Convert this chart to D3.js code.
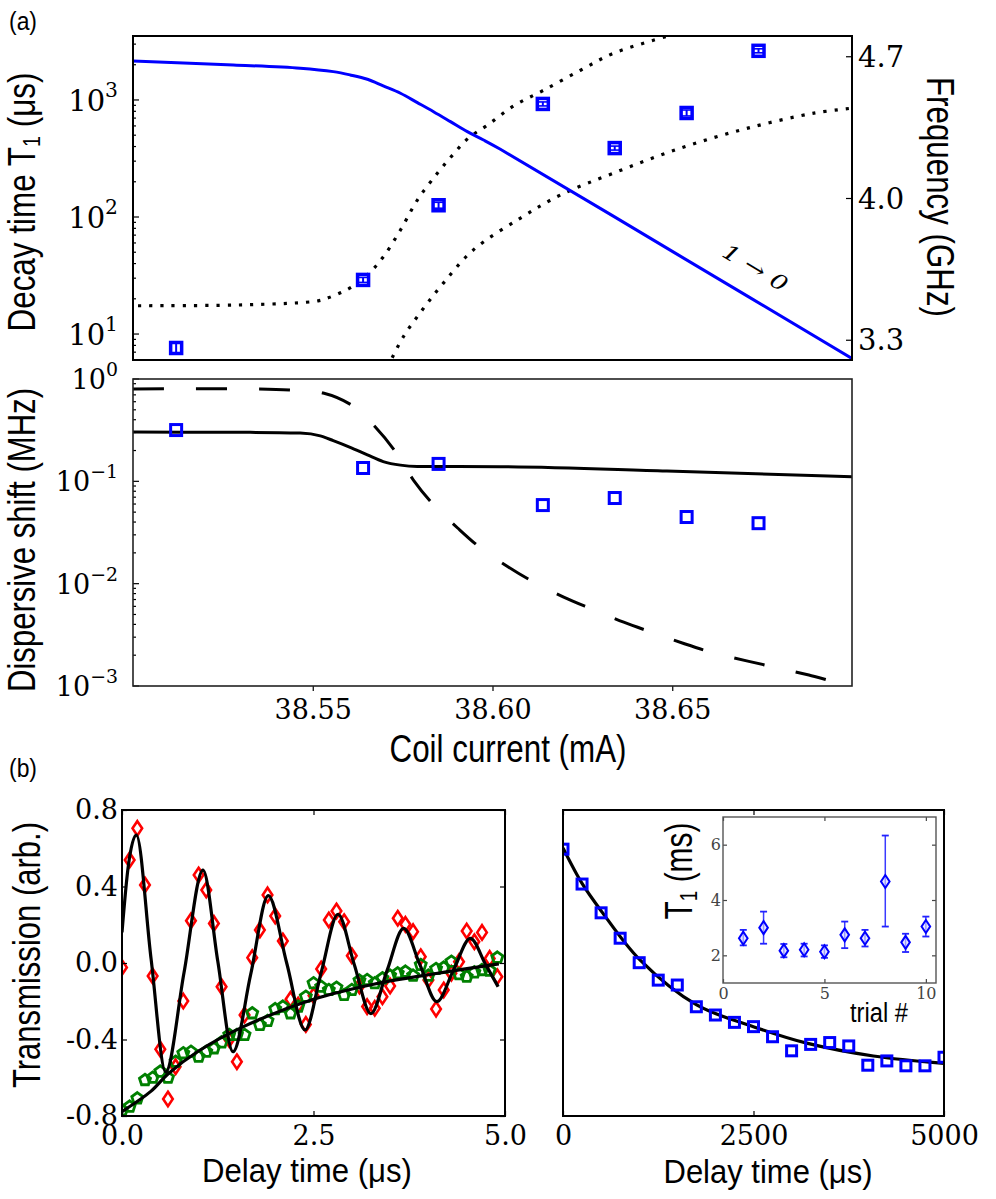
<!DOCTYPE html>
<html>
<head>
<meta charset="utf-8">
<script src="https://cdn.jsdelivr.net/npm/d3@7"></script>
<style>
  body { margin: 0; background: #fff; }
  svg { display: block; }
</style>
</head>
<body>
<div id="fig"></div>
<script>
// ---- panel (a), top: T1 and frequencies vs coil current ----
var coilMeas = [38.512, 38.564, 38.585, 38.614, 38.634, 38.654, 38.674];
var t1Meas = [7.6, 29, 126, 925, 388, 774, 2630];
var t1RelErr = [0.13, 0.05, 0.06, 0.04, 0.04, 0.06, 0.04];

var t1ModelCoil = [38.5000, 38.5279, 38.5465, 38.5557, 38.5604, 38.5652, 38.5696, 38.5744,
                   38.5791, 38.5836, 38.5883, 38.5930, 38.5975, 38.6022, 38.6513, 38.7003];
var t1ModelValues = [2155, 1993, 1868, 1746, 1637, 1503, 1318, 1141, 949, 794, 653, 536, 455, 379, 48.2, 6.1];

var freqACoil = [38.5014, 38.5326, 38.5515, 38.5543, 38.5577, 38.5604, 38.5652, 38.5696, 38.5744, 38.5791,
                 38.5847, 38.5889, 38.5933, 38.5986, 38.6058, 38.6142, 38.6245, 38.6337, 38.6487];
var freqAValues = [3.468, 3.473, 3.492, 3.507, 3.532, 3.556, 3.620, 3.709, 3.842, 3.990,
                   4.123, 4.212, 4.296, 4.360, 4.454, 4.532, 4.631, 4.715, 4.799];
var freqBCoil = [38.5721, 38.5752, 38.5805, 38.5864, 38.5947, 38.6078, 38.6189, 38.6337, 38.6524, 38.6710, 38.6894, 38.7003];
var freqBValues = [3.211, 3.315, 3.448, 3.581, 3.744, 3.901, 4.015, 4.123, 4.247, 4.345, 4.419, 4.444];

var t1Ticks = [10, 100, 1000];
var freqTicks = [3.3, 4.0, 4.7];

// ---- panel (a), bottom: dispersive shift ----
var chiMeas = [0.317, 0.135, 0.148, 0.0586, 0.0687, 0.0448, 0.039];
var chiSolidCoil = [38.5000, 38.5326, 38.5465, 38.5521, 38.5557, 38.5604, 38.5652, 38.5696, 38.5744,
                    38.5791, 38.6022, 38.6485, 38.7003];
var chiSolidValues = [0.303, 0.301, 0.296, 0.278, 0.250, 0.215, 0.181, 0.156, 0.144,
                      0.140, 0.139, 0.126, 0.111];
var chiDashCoil = [38.5000, 38.5348, 38.5437, 38.5529, 38.5610, 38.5674, 38.5730, 38.5780, 38.5836, 38.5903,
                   38.5967, 38.6045, 38.6114, 38.6198, 38.6279, 38.6365, 38.6448, 38.6532, 38.6616, 38.6710,
                   38.6794, 38.6880, 38.6967, 38.7003];
var chiDashValues = [0.80, 0.80, 0.78, 0.73, 0.55, 0.34, 0.195, 0.103, 0.059, 0.035,
                     0.0223, 0.0145, 0.0104, 0.0074, 0.0056, 0.0042, 0.0033, 0.0026, 0.0021, 0.00175,
                     0.0015, 0.00128, 0.00107, 0.00102];
var chiTicks = [0.001, 0.01, 0.1, 1];
var coilTicks = [38.55, 38.60, 38.65];

// ---- panel (b), left: Rabi + relaxation traces ----
var delayUs = [0, 0.1, 0.2, 0.3, 0.4, 0.5, 0.6, 0.7, 0.8, 0.9, 1.0, 1.1, 1.2, 1.3, 1.4, 1.5, 1.6, 1.7, 1.8, 1.9,
               2.0, 2.1, 2.2, 2.3, 2.4, 2.5, 2.6, 2.7, 2.8, 2.9, 3.0, 3.1, 3.2, 3.3, 3.4, 3.5, 3.6, 3.7, 3.8, 3.9,
               4.0, 4.1, 4.2, 4.3, 4.4, 4.5, 4.6, 4.7, 4.8, 4.9];
var rabiValues = [-0.023, 0.539, 0.704, 0.408, -0.068, -0.451, -0.711, -0.542, -0.199, 0.221,
                  0.460, 0.382, 0.207, -0.124, -0.40, -0.516, -0.272, 0.028, 0.173, 0.356,
                  0.246, 0.115, -0.190, -0.22, -0.321, -0.17, -0.031, 0.225, 0.272, 0.216,
                  0.038, -0.12, -0.228, -0.237, -0.176, -0.120, 0.234, 0.202, 0.164, 0.033,
                  -0.089, -0.241, -0.141, -0.054, 0.007, 0.167, 0.111, 0.160, 0.024, -0.072];
var relaxValues = [-0.77, -0.751, -0.708, -0.612, -0.600, -0.568, -0.600, -0.516, -0.472, -0.464,
                   -0.490, -0.464, -0.446, -0.415, -0.376, -0.376, -0.376, -0.263, -0.324, -0.303,
                   -0.241, -0.228, -0.263, -0.228, -0.176, -0.106, -0.124, -0.141, -0.129, -0.167,
                   -0.141, -0.092, -0.089, -0.106, -0.080, -0.066, -0.054, -0.045, -0.066, -0.010,
                   -0.066, -0.031, -0.024, 0.007, -0.058, -0.072, -0.049, -0.037, -0.040, 0.028];
var rabiFitT = [0, 0.08, 0.187, 0.38, 0.57, 0.81, 1.057, 1.25, 1.449, 1.68, 1.91, 2.15, 2.39, 2.6,
                2.82, 3.03, 3.25, 3.46, 3.677, 3.89, 4.11, 4.33, 4.547, 4.75, 4.91];
var rabiFitV = [0.16, 0.50, 0.669, 0.02, -0.57, -0.05, 0.486, 0.01, -0.464, -0.06, 0.352, 0.0, -0.35, -0.05,
                0.255, -0.005, -0.265, -0.04, 0.181, -0.01, -0.202, -0.035, 0.129, -0.01, -0.124];
var relaxFitT = [0, 0.38, 0.6, 1.0, 1.6, 2.5, 3.3, 4.1, 4.92];
var relaxFitV = [-0.777, -0.67, -0.58, -0.46, -0.33, -0.19, -0.11, -0.055, -0.005];
var transTicks = [-0.8, -0.4, 0.0, 0.4, 0.8];
var delayUsTicks = [0, 2.5, 5];

// ---- panel (b), right: long T1 decay + inset ----
var delayLong = [0, 250, 500, 750, 1000, 1250, 1500, 1750, 2000, 2250, 2500, 2750, 3000,
                 3250, 3500, 3750, 4000, 4250, 4500, 4750, 5000];
var decayValues = [0.872, 0.758, 0.664, 0.581, 0.501, 0.444, 0.428, 0.357, 0.330, 0.306, 0.292,
                   0.259, 0.213, 0.234, 0.240, 0.229, 0.166, 0.180, 0.164, 0.164, 0.192];
var decayFitT = [0, 250, 508, 1010, 1754, 2498, 3198, 4073, 5000];
var decayFitV = [0.876, 0.76, 0.668, 0.51, 0.363, 0.292, 0.238, 0.196, 0.172];
var delayLongTicks = [0, 2500, 5000];

var trials = [1, 2, 3, 4, 5, 6, 7, 8, 9, 10];
var trialT1 = [2.62, 3.0, 2.17, 2.20, 2.13, 2.74, 2.62, 4.67, 2.47, 3.04];
var trialLo = [2.36, 2.42, 1.93, 1.96, 1.91, 2.26, 2.32, 3.04, 2.12, 2.68];
var trialHi = [2.92, 3.58, 2.41, 2.42, 2.36, 3.22, 2.92, 6.33, 2.78, 3.40];
var trialTicks = [0, 5, 10];
var insetYTicks = [2, 4, 6];

var blue = "#0000ff", red = "#ff0000", green = "#008000";
var sans = "'Liberation Sans Narrow', 'Liberation Sans', Arial, sans-serif",
    serif = "'DejaVu Serif', serif";

var svg = d3.select("#fig").append("svg").attr("width", 996).attr("height", 1199);

var pTop = { left: 133, right: 852, top: 36, bottom: 360 },
    pMid = { left: 133, right: 852, top: 379, bottom: 686 },
    pBL = { left: 122, right: 505, top: 810, bottom: 1116 },
    pBR = { left: 563, right: 944, top: 810, bottom: 1116 },
    pIn = { left: 723, right: 936, top: 817, bottom: 983 };

var smooth = d3.curveCatmullRom.alpha(0.5);

function clipFor(id, p) {
    svg.append("clipPath").attr("id", id).append("rect")
        .attr("x", p.left).attr("y", p.top)
        .attr("width", p.right - p.left).attr("height", p.bottom - p.top);
    return svg.append("g").attr("clip-path", "url(#" + id + ")");
}
function frame(p, w, col) {
    svg.append("rect").attr("x", p.left).attr("y", p.top)
        .attr("width", p.right - p.left).attr("height", p.bottom - p.top)
        .attr("fill", "none").attr("stroke", col || "#000").attr("stroke-width", w);
}
function styleAxis(g, size, col) {
    g.select(".domain").remove();
    g.selectAll("line").attr("stroke", col || "#000").attr("stroke-width", 1.2);
    g.selectAll("text").attr("font-family", serif).attr("font-size", size).attr("fill", col || "#000");
}
function vLabel(x, y, rot, len, parts) {
    var t = svg.append("text")
        .attr("transform", "translate(" + x + "," + y + ") rotate(" + rot + ")")
        .attr("text-anchor", "middle").attr("font-family", sans).attr("font-size", 38)
        .attr("textLength", len).attr("lengthAdjust", "spacingAndGlyphs");
    parts.forEach(function (p) {
        t.append("tspan").attr("font-size", p.size || 38).attr("dy", p.dy || 0).text(p.t);
    });
    return t;
}
function hLabel(x, y, len, txt, size) {
    svg.append("text").attr("x", x).attr("y", y).attr("text-anchor", "middle")
        .attr("font-family", sans).attr("font-size", size)
        .attr("textLength", len).attr("lengthAdjust", "spacingAndGlyphs").text(txt);
}
function logAxis(scale, x0, majors, size) {
    var g = svg.append("g");
    scale.ticks().forEach(function (v) {
        var e = Math.round(Math.log10(v));
        var major = Math.abs(Math.log10(v) - e) < 1e-6;
        g.append("line").attr("x1", x0).attr("x2", x0 + (major ? 6 : 3))
            .attr("y1", scale(v)).attr("y2", scale(v))
            .attr("stroke", "#000").attr("stroke-width", 1.2);
    });
    majors.forEach(function (v) {
        var e = Math.round(Math.log10(v));
        var t = g.append("text").attr("x", x0 - 15).attr("y", scale(v) + 0.37 * size)
            .attr("text-anchor", "end").attr("font-family", serif).attr("font-size", size).text("10");
        t.append("tspan").attr("dy", -0.48 * size).attr("font-size", 0.7 * size)
            .text(e < 0 ? "\u2212" + (-e) : String(e));
    });
}
function diamondPath(hw, hh) {
    return "M0," + (-hh) + "L" + hw + ",0L0," + hh + "L" + (-hw) + ",0Z";
}
function pentagonPath(r) {
    var pts = d3.range(5).map(function (i) {
        var a = -Math.PI / 2 + i * 2 * Math.PI / 5;
        return [r * Math.cos(a), r * Math.sin(a)];
    });
    return "M" + pts.join("L") + "Z";
}

// ================= panel (a) top =================
var x = d3.scaleLinear().domain([38.50, 38.70]).range([pTop.left, pTop.right]);
var yT1 = d3.scaleLog().domain([6, 3520]).range([pTop.bottom, pTop.top]);
var yF = d3.scaleLinear().domain([3.2, 4.8]).range([pTop.bottom, pTop.top]);

var gTop = clipFor("clipTop", pTop);
var lineT1 = d3.line().x(function (d) { return x(d[0]); }).y(function (d) { return yT1(d[1]); })
    .curve(smooth);
var lineF = d3.line().x(function (d) { return x(d[0]); }).y(function (d) { return yF(d[1]); })
    .curve(smooth);

[d3.zip(freqACoil, freqAValues), d3.zip(freqBCoil, freqBValues)].forEach(function (s) {
    gTop.append("path").datum(s).attr("d", lineF)
        .attr("fill", "none").attr("stroke", "#000").attr("stroke-width", 3.2)
        .attr("stroke-dasharray", "3.2,8");
});
gTop.append("path").datum(d3.zip(t1ModelCoil, t1ModelValues)).attr("d", lineT1)
    .attr("fill", "none").attr("stroke", blue).attr("stroke-width", 3);

var t1Pts = gTop.selectAll("g.t1").data(d3.zip(coilMeas, t1Meas, t1RelErr)).enter().append("g")
    .attr("transform", function (d) { return "translate(" + x(d[0]) + "," + yT1(d[1]) + ")"; });
t1Pts.append("rect").attr("x", -5.5).attr("y", -5.5).attr("width", 11).attr("height", 11)
    .attr("fill", "#fff").attr("stroke", blue).attr("stroke-width", 3.5);
t1Pts.each(function (d) {
    var g = d3.select(this),
        hi = yT1(d[1] * (1 + d[2])) - yT1(d[1]),
        lo = yT1(d[1] / (1 + d[2])) - yT1(d[1]);
    g.append("line").attr("x1", 0).attr("x2", 0).attr("y1", hi).attr("y2", lo)
        .attr("stroke", blue).attr("stroke-width", 2);
    [hi, lo].forEach(function (yy) {
        g.append("line").attr("x1", -5).attr("x2", 5).attr("y1", yy).attr("y2", yy)
            .attr("stroke", blue).attr("stroke-width", 1.6);
    });
});

svg.append("text")
    .attr("transform", "translate(755,268) rotate(31)")
    .attr("text-anchor", "middle").attr("y", 7)
    .attr("font-family", serif).attr("font-style", "italic").attr("font-size", 21)
    .attr("textLength", 72).attr("lengthAdjust", "spacingAndGlyphs")
    .text("1 \u2192 0");

logAxis(yT1, pTop.left, t1Ticks, 29);
var axF = svg.append("g").attr("transform", "translate(" + pTop.right + ",0)")
    .call(d3.axisRight(yF).tickValues(freqTicks).tickSize(-6).tickPadding(6)
        .tickFormat(d3.format(".1f")));
styleAxis(axF, 29);
axF.selectAll("text").attr("dy", "0.35em");
frame(pTop, 2);

vLabel(35, 202, -90, 259, [{ t: "Decay time T" }, { t: "1", size: 24, dy: 5 }, { t: " (\u03bcs)", dy: -5 }]);
vLabel(927, 197, 90, 240, [{ t: "Frequency (GHz)" }]);

// ================= panel (a) bottom =================
var yChi = d3.scaleLog().domain([1e-3, 1]).range([pMid.bottom, pMid.top]);
var gMid = clipFor("clipMid", pMid);
var lineChi = d3.line().x(function (d) { return x(d[0]); }).y(function (d) { return yChi(d[1]); })
    .curve(smooth);

gMid.append("path").datum(d3.zip(chiDashCoil, chiDashValues)).attr("d", lineChi)
    .attr("fill", "none").attr("stroke", "#000").attr("stroke-width", 3)
    .attr("stroke-dasharray", "31,32");
gMid.append("path").datum(d3.zip(chiSolidCoil, chiSolidValues))
    .attr("d", lineChi.curve(d3.curveMonotoneX))
    .attr("fill", "none").attr("stroke", "#000").attr("stroke-width", 3);
gMid.selectAll("rect.chi").data(d3.zip(coilMeas, chiMeas)).enter().append("rect")
    .attr("x", function (d) { return x(d[0]) - 5.5; })
    .attr("y", function (d) { return yChi(d[1]) - 5.5; })
    .attr("width", 11).attr("height", 11)
    .attr("fill", "none").attr("stroke", blue).attr("stroke-width", 3);

logAxis(yChi, pMid.left, chiTicks, 27);
var axCoil = svg.append("g").attr("transform", "translate(0," + pMid.bottom + ")")
    .call(d3.axisBottom(x).tickValues(coilTicks).tickSize(5).tickPadding(9)
        .tickFormat(d3.format(".2f")));
styleAxis(axCoil, 27);
frame(pMid, 1.6, "#222");

vLabel(35, 540, -90, 304, [{ t: "Dispersive shift (MHz)" }]);
hLabel(508, 762, 237, "Coil current (mA)", 38);

svg.append("text").attr("x", 9).attr("y", 30).attr("font-family", sans).attr("font-size", 25)
    .attr("textLength", 28).attr("lengthAdjust", "spacingAndGlyphs").text("(a)");
svg.append("text").attr("x", 9).attr("y", 777).attr("font-family", sans).attr("font-size", 25)
    .attr("textLength", 28).attr("lengthAdjust", "spacingAndGlyphs").text("(b)");

// ================= panel (b) left =================
var xUs = d3.scaleLinear().domain([0, 5]).range([pBL.left, pBL.right]);
var yTr = d3.scaleLinear().domain([-0.8, 0.8]).range([pBL.bottom, pBL.top]);
var gBL = clipFor("clipBL", pBL);
var lineTr = d3.line().x(function (d) { return xUs(d[0]); }).y(function (d) { return yTr(d[1]); })
    .curve(d3.curveMonotoneX);

gBL.selectAll("path.rabi").data(d3.zip(delayUs, rabiValues)).enter().append("path")
    .attr("transform", function (d) { return "translate(" + xUs(d[0]) + "," + yTr(d[1]) + ")"; })
    .attr("d", diamondPath(4.8, 7.2))
    .attr("fill", "none").attr("stroke", red).attr("stroke-width", 2.6);
gBL.selectAll("path.relax").data(d3.zip(delayUs, relaxValues)).enter().append("path")
    .attr("transform", function (d) { return "translate(" + xUs(d[0]) + "," + yTr(d[1]) + ")"; })
    .attr("d", pentagonPath(5.8))
    .attr("fill", "none").attr("stroke", green).attr("stroke-width", 2.8);
gBL.append("path").datum(d3.zip(rabiFitT, rabiFitV)).attr("d", lineTr)
    .attr("fill", "none").attr("stroke", "#000").attr("stroke-width", 3.2);
gBL.append("path").datum(d3.zip(relaxFitT, relaxFitV)).attr("d", lineTr.curve(smooth))
    .attr("fill", "none").attr("stroke", "#000").attr("stroke-width", 3.2);

var axBLy = svg.append("g").attr("transform", "translate(" + pBL.left + ",0)")
    .call(d3.axisLeft(yTr).tickValues(transTicks).tickSize(-5).tickPadding(4)
        .tickFormat(function (d) { return d3.format(".1f")(d).replace("\u2212", "-"); }));
styleAxis(axBLy, 27);
var axBLr = svg.append("g").attr("transform", "translate(" + pBL.right + ",0)")
    .call(d3.axisRight(yTr).tickValues(transTicks).tickSize(-5).tickFormat(""));
styleAxis(axBLr, 27);
var axBLx = svg.append("g").attr("transform", "translate(0," + pBL.bottom + ")")
    .call(d3.axisBottom(xUs).tickValues(delayUsTicks).tickSize(-5).tickPadding(10)
        .tickFormat(d3.format(".1f")));
styleAxis(axBLx, 27);
var axBLt = svg.append("g").attr("transform", "translate(0," + pBL.top + ")")
    .call(d3.axisTop(xUs).tickValues(delayUsTicks).tickSize(-5).tickFormat(""));
styleAxis(axBLt, 27);
frame(pBL, 2);

vLabel(40, 955, -90, 266, [{ t: "Transmission (arb.)" }]);
hLabel(307, 1182, 210, "Delay time (\u03bcs)", 34);

// ================= panel (b) right =================
var xLong = d3.scaleLinear().domain([0, 5000]).range([pBR.left, pBR.right]);
var yDec = d3.scaleLinear().domain([0, 1]).range([pBR.bottom, pBR.top]);
var gBR = clipFor("clipBR", pBR);
gBR.append("path").datum(d3.zip(decayFitT, decayFitV))
    .attr("d", d3.line().x(function (d) { return xLong(d[0]); }).y(function (d) { return yDec(d[1]); })
        .curve(smooth))
    .attr("fill", "none").attr("stroke", "#000").attr("stroke-width", 3.2);
gBR.selectAll("rect.dec").data(d3.zip(delayLong, decayValues)).enter().append("rect")
    .attr("x", function (d) { return xLong(d[0]) - 5; })
    .attr("y", function (d) { return yDec(d[1]) - 5; })
    .attr("width", 10).attr("height", 10)
    .attr("fill", "none").attr("stroke", blue).attr("stroke-width", 3);

var axBRx = svg.append("g").attr("transform", "translate(0," + pBR.bottom + ")")
    .call(d3.axisBottom(xLong).tickValues(delayLongTicks).tickSize(-5).tickPadding(10)
        .tickFormat(d3.format("d")));
styleAxis(axBRx, 27);
var axBRt = svg.append("g").attr("transform", "translate(0," + pBR.top + ")")
    .call(d3.axisTop(xLong).tickValues(delayLongTicks).tickSize(-5).tickFormat(""));
styleAxis(axBRt, 27);
frame(pBR, 2);
hLabel(768, 1183, 209, "Delay time (\u03bcs)", 34);

// ---- inset ----
var xTr = d3.scaleLinear().domain([0, 10.5]).range([pIn.left, pIn.right]);
var yIn = d3.scaleLinear().domain([1, 7]).range([pIn.bottom, pIn.top]);
svg.append("rect").attr("x", pIn.left).attr("y", pIn.top)
    .attr("width", pIn.right - pIn.left).attr("height", pIn.bottom - pIn.top).attr("fill", "#fff");
var gIn = clipFor("clipIn", pIn);
var trialRows = d3.zip(trials, trialT1, trialLo, trialHi);
var eb = gIn.selectAll("g.eb").data(trialRows).enter().append("g");
eb.append("line")
    .attr("x1", function (d) { return xTr(d[0]); }).attr("x2", function (d) { return xTr(d[0]); })
    .attr("y1", function (d) { return yIn(d[2]); }).attr("y2", function (d) { return yIn(d[3]); })
    .attr("stroke", "#3a3aff").attr("stroke-width", 1.5);
[2, 3].forEach(function (k) {
    eb.append("line")
        .attr("x1", function (d) { return xTr(d[0]) - 3.5; }).attr("x2", function (d) { return xTr(d[0]) + 3.5; })
        .attr("y1", function (d) { return yIn(d[k]); }).attr("y2", function (d) { return yIn(d[k]); })
        .attr("stroke", "#2222ff").attr("stroke-width", 1.8);
});
eb.append("path")
    .attr("transform", function (d) { return "translate(" + xTr(d[0]) + "," + yIn(d[1]) + ")"; })
    .attr("d", diamondPath(4.3, 6.5))
    .attr("fill", "#d8d8ff").attr("fill-opacity", 0.6)
    .attr("stroke", blue).attr("stroke-width", 2);

var inCol = "#444";
var axInX = svg.append("g").attr("transform", "translate(0," + pIn.bottom + ")")
    .call(d3.axisBottom(xTr).tickValues(trialTicks).tickSize(-4).tickPadding(5).tickFormat(d3.format("d")));
styleAxis(axInX, 16, inCol);
var axInT = svg.append("g").attr("transform", "translate(0," + pIn.top + ")")
    .call(d3.axisTop(xTr).tickValues(trialTicks).tickSize(-4).tickFormat(""));
styleAxis(axInT, 16, inCol);
var axInY = svg.append("g").attr("transform", "translate(" + pIn.left + ",0)")
    .call(d3.axisLeft(yIn).tickValues(insetYTicks).tickSize(-4).tickPadding(2).tickFormat(d3.format("d")));
styleAxis(axInY, 16, inCol);
var axInR = svg.append("g").attr("transform", "translate(" + pIn.right + ",0)")
    .call(d3.axisRight(yIn).tickValues(insetYTicks).tickSize(-4).tickFormat(""));
styleAxis(axInR, 16, inCol);
frame(pIn, 1.4, "#555");

vLabel(692, 871, -90, 97, [{ t: "T" }, { t: "1", size: 24, dy: 5 }, { t: " (ms)", dy: -5 }]);
svg.append("text").attr("x", 850).attr("y", 1022).attr("font-family", sans).attr("font-size", 27)
    .attr("textLength", 58).attr("lengthAdjust", "spacingAndGlyphs").text("trial #");
</script>
</body>
</html>
